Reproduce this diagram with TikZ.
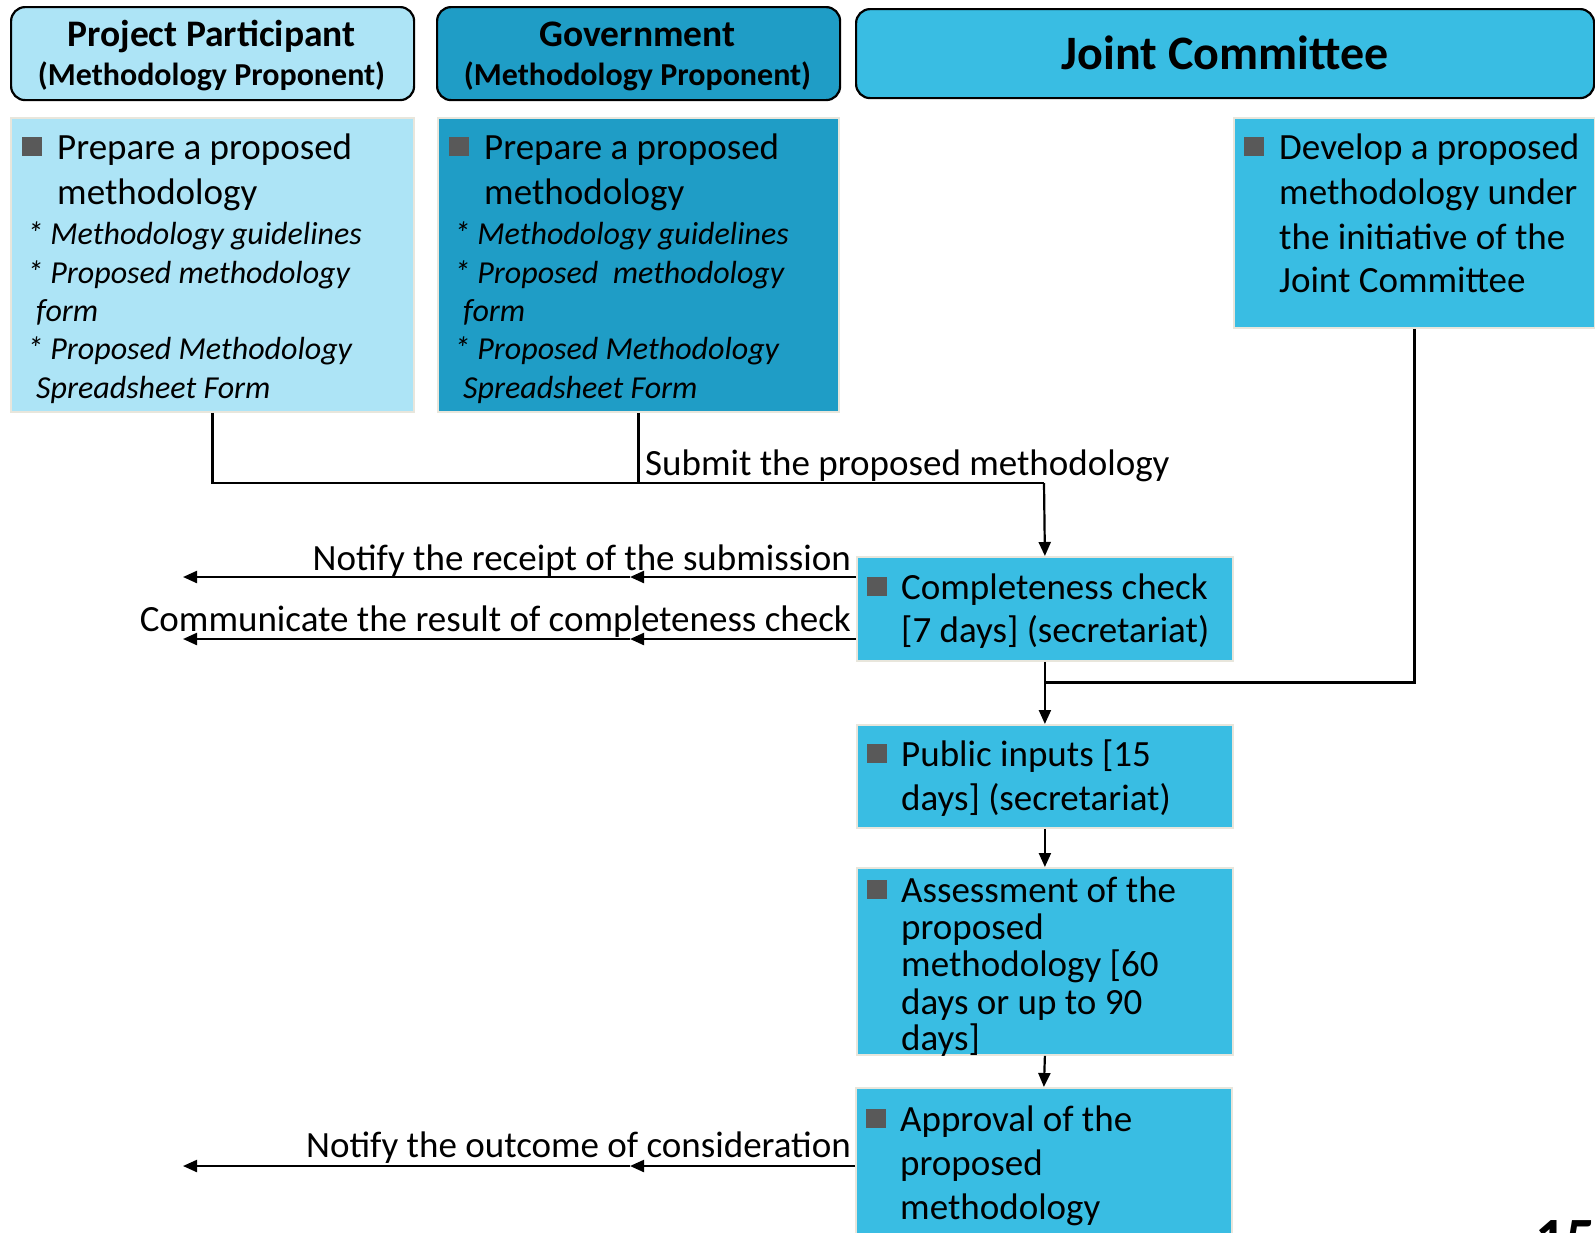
\documentclass[tikz,border=0pt]{standalone}
\usepackage{fontspec}
\setmainfont{Carlito}
\usetikzlibrary{arrows.meta}
\definecolor{pplight}{HTML}{ADE4F6}
\definecolor{govblue}{HTML}{1F9DC6}
\definecolor{jcblue}{HTML}{39BDE3}
\definecolor{bulgray}{HTML}{595959}
\definecolor{edgebeige}{HTML}{E8E6DC}
\begin{document}
\begin{tikzpicture}[x=1pt,y=-1pt,
 hdr/.style={draw=black, line width=2.2pt, rounded corners=14pt, inner sep=0pt, anchor=north west},
 cbox/.style={draw=edgebeige, line width=1.8pt, inner sep=0pt, anchor=north west},
 bul/.style={fill=bulgray, inner sep=0pt, minimum width=19.5pt, minimum height=19pt, anchor=north west},
 tx/.style={anchor=base west, inner sep=0pt, font=\fontsize{37}{44}\selectfont},
 itx/.style={anchor=base west, inner sep=0pt, font=\fontsize{32}{38}\selectfont\itshape},
 lbl/.style={anchor=base east, inner sep=0pt, font=\fontsize{37}{44}\selectfont},
 hdone/.style={anchor=base, inner sep=0pt, font=\bfseries\fontsize{37.5}{42}\selectfont},
 hdtwo/.style={anchor=base, inner sep=0pt, font=\bfseries\fontsize{32}{36}\selectfont},
 conn/.style={line width=2.2pt},
 arr/.style={conn, -{Triangle[length=14pt,width=12pt]}}]
\useasboundingbox (0,0) rectangle (1595,1232);
\clip (0,0) rectangle (1595,1232);

% headers
\node[hdr, fill=pplight, minimum width=403pt, minimum height=93pt] (ppH) at (10,6) {};
\node[hdone] (ppH1) at (211.5,46) {Project Participant};
\node[hdtwo] (ppH2) at (211.5,85) {(Methodology Proponent)};
\node[hdr, fill=govblue, minimum width=403pt, minimum height=93pt] (govH) at (436,6) {};
\node[hdone] (govH1) at (637.5,46) {Government};
\node[hdtwo] (govH2) at (637.5,85) {(Methodology Proponent)};
\node[hdr, fill=jcblue, minimum width=738pt, minimum height=89pt] (jcH) at (855,8) {};
\node[anchor=base, inner sep=0pt, font=\bfseries\fontsize{48}{54}\selectfont] (jcH1) at (1225,69) {Joint Committee};

% project participant content
\node[cbox, fill=pplight, minimum width=403pt, minimum height=294pt] (ppC) at (10,117) {};
\node[bul] (ppB) at (22,137) {};
\node[tx] (ppT1) at (57,159) {Prepare a proposed};
\node[tx] (ppT2) at (57,204) {methodology};
\node[itx] (ppI1) at (27,244) {*~Methodology guidelines};
\node[itx] (ppI2) at (27,283) {*~Proposed methodology};
\node[itx] (ppI3) at (36,321) {form};
\node[itx] (ppI4) at (27,359) {*~Proposed Methodology};
\node[itx] (ppI5) at (36,398) {Spreadsheet Form};

% government content
\node[cbox, fill=govblue, minimum width=401pt, minimum height=294pt] (govC) at (437,117) {};
\node[bul] (govB) at (449,137) {};
\node[tx] (govT1) at (484,159) {Prepare a proposed};
\node[tx] (govT2) at (484,204) {methodology};
\node[itx] (govI1) at (454,244) {*~Methodology guidelines};
\node[itx] (govI2) at (454,283) {*~Proposed\ \ methodology};
\node[itx] (govI3) at (463,321) {form};
\node[itx] (govI4) at (454,359) {*~Proposed Methodology};
\node[itx] (govI5) at (463,398) {Spreadsheet Form};

% joint committee content
\node[cbox, fill=jcblue, minimum width=361pt, minimum height=210pt] (jcC) at (1233,117) {};
\node[bul] (jcB) at (1244,137) {};
\node[tx] (jcT1) at (1279,159) {Develop a proposed};
\node[tx] (jcT2) at (1279,204) {methodology under};
\node[tx] (jcT3) at (1279,249) {the initiative of the};
\node[tx] (jcT4) at (1279,292) {Joint Committee};

% process boxes
\node[cbox, fill=jcblue, minimum width=376pt, minimum height=104pt] (comp) at (856,556) {};
\node[bul] (compB) at (867,577) {};
\node[tx] (compT1) at (901,599) {Completeness check};
\node[tx] (compT2) at (901,642) {[7 days] (secretariat)};

\node[cbox, fill=jcblue, minimum width=376pt, minimum height=103pt] (pub) at (856,724) {};
\node[bul] (pubB) at (867,744) {};
\node[tx] (pubT1) at (901,766) {Public inputs [15};
\node[tx] (pubT2) at (901,810) {days] (secretariat)};

\node[cbox, fill=jcblue, minimum width=376pt, minimum height=187pt] (assess) at (856,867) {};
\node[bul] (assB) at (867,880) {};
\node[tx] (assT1) at (901,902) {Assessment of the};
\node[tx] (assT2) at (901,939) {proposed};
\node[tx] (assT3) at (901,976) {methodology [60};
\node[tx] (assT4) at (901,1014) {days or up to 90};
\node[tx] (assT5) at (901,1050) {days]};

\node[cbox, fill=jcblue, minimum width=376pt, minimum height=160pt] (appr) at (855,1087) {};
\node[bul] (apprB) at (866,1109) {};
\node[tx] (apprT1) at (900,1131) {Approval of the};
\node[tx] (apprT2) at (900,1175) {proposed};
\node[tx] (apprT3) at (900,1219) {methodology};

% page number fragment (cut off at the lower edge, as in the source)
\node[anchor=base west, inner sep=0pt, font=\bfseries\fontsize{60}{60}\selectfont] (pg) at (1535,1259) {15};

% connectors
\coordinate (jn) at (1044,483);
\coordinate (jn2) at (1044,682.5);
\draw[conn] (ppC.south) |- (jn);
\draw[conn] (govC.south) -- (govC.south |- jn);
\draw[arr] (jn) -- (comp.north);
\node[tx] (submit) at (645,475) {Submit the proposed methodology};

\draw[conn] (jcC.south) |- (jn2);
\draw[arr] (comp.south) -- (pub.north);
\draw[arr] (pub.south) -- (assess.north);
\draw[arr] (assess.south) -- (appr.north);

\coordinate (n1m) at (630,577);
\coordinate (n1e) at (183,577);
\coordinate (n2m) at (630,639);
\coordinate (n2e) at (183,639);
\coordinate (n3m) at (630,1166);
\coordinate (n3e) at (183,1166);
\draw[arr] (comp.west |- n1m) -- (n1m);
\draw[arr] (n1m) -- (n1e);
\draw[arr] (comp.west |- n2m) -- (n2m);
\draw[arr] (n2m) -- (n2e);
\draw[arr] (appr.west |- n3m) -- (n3m);
\draw[arr] (n3m) -- (n3e);
\node[lbl] (lab1) at (851,570) {Notify the receipt of the submission};
\node[lbl] (lab2) at (851,631) {Communicate the result of completeness check};
\node[lbl] (lab3) at (851,1157) {Notify the outcome of consideration};
\end{tikzpicture}
\end{document}
